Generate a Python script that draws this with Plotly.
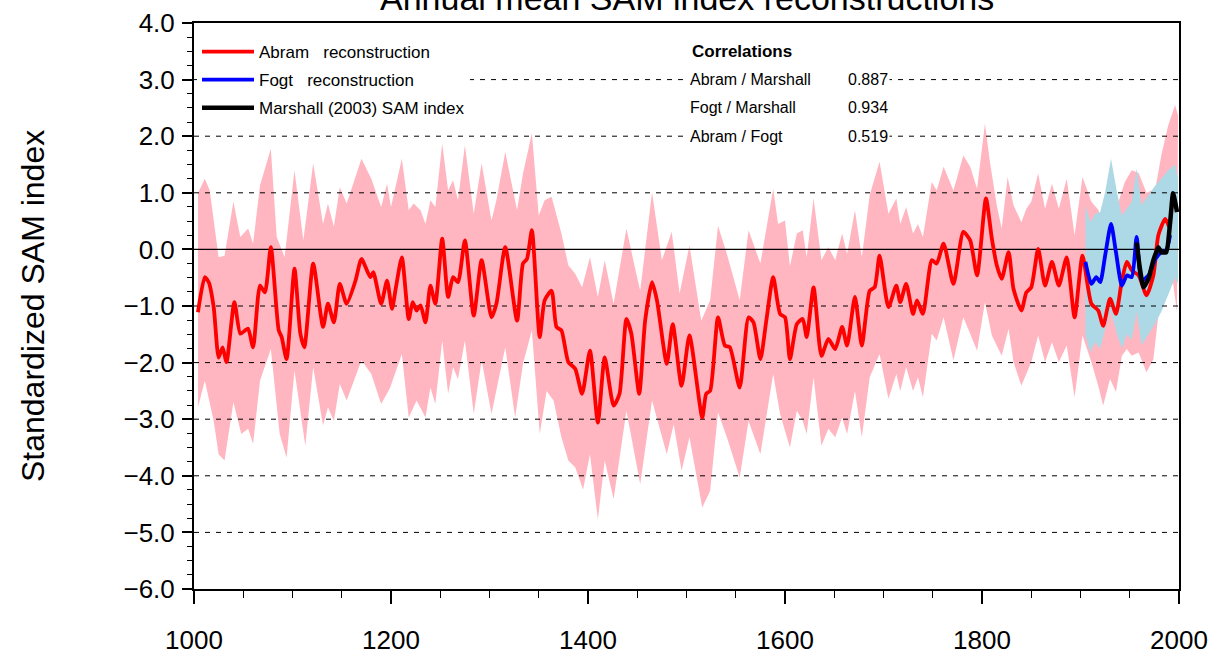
import plotly.graph_objects as go

FONT = "Liberation Sans, Arial, Helvetica, sans-serif"

# ---------------- data ----------------
abram_years = [1004, 1011, 1015, 1020, 1025, 1029, 1033, 1041, 1047, 1052, 1055, 1060, 1067, 1072, 1078,
               1086, 1089, 1094, 1102, 1108, 1112, 1121, 1131, 1136, 1142, 1148, 1155, 1164, 1170, 1179,
               1182, 1190, 1196, 1201, 1205, 1211, 1218, 1222, 1226, 1230, 1235, 1240, 1245, 1252, 1258,
               1263, 1268, 1275, 1284, 1292, 1302, 1307, 1316, 1328, 1334, 1338, 1343, 1351, 1356, 1363,
               1368, 1373, 1380, 1387, 1394, 1402, 1410, 1417, 1426, 1432, 1439, 1444, 1452, 1458, 1465,
               1470, 1480, 1486, 1495, 1503, 1516, 1520, 1524, 1532, 1539, 1544, 1554, 1563, 1568, 1575,
               1581, 1588, 1595, 1600, 1605, 1612, 1618, 1622, 1629, 1637, 1644, 1651, 1658, 1663, 1671,
               1678, 1686, 1691, 1696, 1705, 1713, 1717, 1723, 1730, 1734, 1740, 1749, 1754, 1761, 1771,
               1781, 1788, 1795, 1804, 1810, 1815, 1820, 1827, 1832, 1840, 1845, 1850, 1857, 1864, 1871,
               1878, 1886, 1894, 1902, 1911, 1918, 1923, 1930, 1936, 1942, 1947, 1952, 1959, 1967, 1974,
               1979, 1986, 1990]
abram_values = [-1.11, -0.49, -0.58, -1.02, -1.91, -1.73, -1.99, -0.93, -1.49, -1.43, -1.40, -1.73, -0.64, -0.76, 0.04,
                -1.43, -1.55, -1.94, -0.34, -1.49, -1.73, -0.25, -1.37, -0.96, -1.29, -0.61, -0.96, -0.55, -0.17, -0.49,
                -0.40, -0.96, -0.55, -1.05, -0.67, -0.14, -1.23, -0.93, -1.08, -0.99, -1.29, -0.64, -0.96, 0.19, -0.84,
                -0.49, -0.58, 0.16, -1.17, -0.19, -1.20, -0.96, 0.04, -1.26, -0.25, -0.17, 0.34, -1.55, -0.90, -0.73,
                -1.37, -1.43, -1.99, -2.11, -2.55, -1.79, -3.06, -1.91, -2.76, -2.55, -1.23, -1.49, -2.55, -1.26, -0.58,
                -0.90, -2.02, -1.32, -2.41, -1.52, -2.97, -2.55, -2.50, -1.20, -1.70, -1.73, -2.44, -1.20, -1.29, -1.94,
                -1.26, -0.49, -1.14, -1.20, -1.94, -1.32, -1.23, -1.55, -0.67, -1.88, -1.58, -1.76, -1.37, -1.70, -0.84,
                -1.70, -0.73, -0.67, -0.11, -1.02, -0.64, -0.93, -0.61, -1.14, -0.90, -1.14, -0.19, -0.25, 0.10, -0.61,
                0.31, 0.16, -0.46, 0.90, 0.19, -0.28, -0.52, -0.05, -0.70, -1.08, -0.76, -0.67, 0.01, -0.64, -0.22,
                -0.64, -0.14, -1.20, -0.11, -0.96, -1.08, -1.35, -0.87, -1.14, -0.55, -0.22, -0.37, -0.46, -0.81, -0.46,
                0.25, 0.54, 0.40]

abram_upper_years = [1004, 1011, 1016, 1025, 1031, 1040, 1047, 1055, 1060, 1067, 1078, 1084, 1092, 1102, 1111,
                     1121, 1131, 1136, 1142, 1148, 1155, 1170, 1180, 1190, 1196, 1200, 1211, 1218, 1223, 1230,
                     1235, 1240, 1245, 1252, 1258, 1263, 1268, 1275, 1284, 1292, 1302, 1307, 1316, 1328, 1334,
                     1343, 1350, 1356, 1363, 1373, 1380, 1387, 1394, 1402, 1410, 1417, 1426, 1439, 1446, 1453,
                     1465, 1475, 1485, 1493, 1503, 1515, 1524, 1532, 1541, 1554, 1563, 1575, 1588, 1593, 1600,
                     1605, 1612, 1618, 1622, 1629, 1637, 1644, 1651, 1658, 1663, 1671, 1678, 1686, 1696, 1705,
                     1713, 1717, 1723, 1730, 1735, 1740, 1749, 1754, 1761, 1771, 1781, 1788, 1795, 1803, 1808,
                     1815, 1820, 1826, 1832, 1840, 1845, 1850, 1857, 1864, 1871, 1878, 1886, 1894, 1902, 1911,
                     1918, 1923, 1930, 1936, 1945, 1952, 1959, 1967, 1976, 1982, 1989, 1996, 1999]
abram_upper = [0.99, 1.25, 1.04, -0.14, -0.11, 0.84, 0.22, 0.37, 0.10, 1.13, 1.78, 0.22, -0.14, 1.40, 0.16,
               1.52, 0.45, 0.81, 0.40, 1.10, 0.81, 1.60, 1.25, 0.75, 1.16, 0.75, 1.60, 0.69, 0.81, 0.69,
               0.45, 0.87, 0.75, 1.87, 1.04, 1.22, 0.87, 1.84, 0.63, 1.52, 0.51, 0.87, 1.72, 0.69, 1.34,
               2.05, 0.60, 0.87, 0.93, 0.28, -0.28, -0.43, -0.67, -0.14, -0.84, -0.19, -0.96, 0.37, -0.19, -0.73,
               1.01, -0.19, 0.31, -0.78, 0.07, -1.26, -0.90, 0.42, -0.08, -0.90, 0.34, -0.25, 1.07, 0.45, 0.51,
               -0.30, 0.28, 0.34, -0.14, 0.90, -0.19, 0.04, -0.19, 0.28, -0.08, 0.69, -0.14, 0.96, 1.55, 0.63,
               0.90, 0.45, 0.75, 0.28, 0.45, 0.22, 1.19, 1.04, 1.46, 1.04, 1.66, 1.46, 1.07, 2.22, 1.55,
               0.78, 0.37, 1.28, 0.78, 0.48, 0.72, 0.84, 1.34, 0.72, 1.16, 0.72, 1.25, 0.25, 1.28, 0.84,
               0.70, 0.45, 0.93, 0.70, 1.19, 1.40, 1.35, 1.00, 1.07, 1.66, 2.19, 2.55, 2.37]

abram_lower_years = [1004, 1011, 1020, 1025, 1031, 1040, 1048, 1055, 1060, 1067, 1078, 1087, 1094, 1102, 1113,
                     1121, 1131, 1136, 1142, 1148, 1155, 1170, 1180, 1190, 1199, 1211, 1218, 1226, 1235, 1240,
                     1245, 1252, 1258, 1263, 1268, 1275, 1284, 1292, 1302, 1316, 1326, 1334, 1343, 1351, 1358,
                     1365, 1373, 1380, 1387, 1395, 1402, 1410, 1417, 1426, 1439, 1453, 1465, 1480, 1487, 1495,
                     1503, 1516, 1524, 1532, 1541, 1554, 1563, 1575, 1588, 1595, 1605, 1612, 1618, 1622, 1629,
                     1637, 1644, 1651, 1658, 1663, 1671, 1678, 1686, 1696, 1705, 1713, 1717, 1723, 1730, 1735,
                     1740, 1749, 1754, 1761, 1771, 1781, 1788, 1795, 1803, 1810, 1820, 1827, 1832, 1840, 1850,
                     1857, 1864, 1871, 1878, 1886, 1894, 1902, 1911, 1918, 1923, 1930, 1936, 1942, 1947, 1952,
                     1959, 1967, 1974, 1979, 1986, 1993, 1998]
abram_lower = [-2.79, -2.32, -3.03, -3.62, -3.73, -2.70, -3.26, -3.17, -3.44, -2.32, -1.76, -3.26, -3.68, -2.14, -3.47,
               -2.08, -3.11, -2.79, -3.03, -2.38, -2.67, -1.96, -2.20, -2.73, -2.45, -1.85, -2.97, -2.67, -2.97, -2.44,
               -2.73, -1.61, -2.55, -2.08, -2.29, -1.61, -2.91, -1.96, -2.91, -1.73, -2.97, -2.02, -1.43, -3.26, -2.50,
               -2.67, -3.32, -3.73, -3.85, -4.24, -3.62, -4.77, -3.73, -4.41, -2.85, -4.15, -2.67, -3.62, -3.09, -3.91,
               -3.32, -4.56, -4.27, -2.88, -3.32, -4.03, -3.03, -3.62, -2.20, -2.91, -3.50, -2.85, -3.03, -3.26, -2.26,
               -3.47, -3.17, -3.32, -2.97, -3.26, -2.50, -3.32, -2.26, -1.85, -2.64, -2.20, -2.50, -2.08, -2.50, -2.26,
               -2.61, -1.49, -1.61, -1.20, -1.96, -1.20, -1.49, -1.79, -0.93, -1.52, -1.88, -1.40, -1.99, -2.41, -1.99,
               -1.52, -1.99, -1.64, -1.99, -1.70, -2.61, -1.52, -1.99, -2.41, -2.76, -2.29, -2.52, -1.88, -1.76, -1.88,
               -1.82, -2.17, -1.94, -1.17, -0.81, -0.46, -1.11]

fogt_years = [1905, 1911, 1916, 1920, 1925, 1931, 1936, 1942, 1947, 1952, 1957, 1962, 1969, 1976, 1982, 1987, 1991]
fogt_values = [-0.22, -0.61, -0.49, -0.58, -0.11, 0.45, -0.05, -0.64, -0.46, -0.49, 0.22, -0.55, -0.46, -0.17, -0.05, -0.02, 0.25]

fogt_band_years = [1905, 1910, 1915, 1920, 1925, 1931, 1937, 1942, 1947, 1952, 1957, 1962, 1969, 1976, 1982, 1989, 1996, 1999]
fogt_upper = [0.78, 0.48, 0.63, 0.66, 1.01, 1.60, 1.01, 0.60, 0.72, 0.84, 1.43, 0.78, 0.96, 1.13, 1.25, 1.40, 1.50, 1.25]
fogt_lower = [-1.52, -1.82, -1.64, -1.76, -1.40, -1.10, -1.50, -1.75, -1.50, -1.60, -1.10, -1.70, -1.50, -1.30, -1.10, -0.80, -0.50, -0.60]

marshall_years = [1957, 1960, 1964, 1969, 1974, 1979, 1982, 1987, 1991, 1994, 1998]
marshall_values = [0.12, -0.30, -0.67, -0.52, -0.19, 0.04, -0.05, -0.05, 0.48, 0.99, 0.66]

series_names = ["Abram\u00a0\u00a0 reconstruction", "Fogt\u00a0\u00a0 reconstruction", "Marshall (2003) SAM index"]
corr_labels = ["Abram / Marshall", "Fogt / Marshall", "Abram / Fogt"]
corr_values = ["0.887", "0.934", "0.519"]

grid_levels = [-5, -4, -3, -2, -1, 1, 2, 3]
x_range = [1000, 2000]
y_range = [-6, 4]
x_ticks = [1000, 1200, 1400, 1600, 1800, 2000]
y_ticks = [4, 3, 2, 1, 0, -1, -2, -3, -4, -5, -6]

# ---------------- figure ----------------
fig = go.Figure()

# uncertainty bands (closed polygons)
fig.add_trace(go.Scatter(
    x=abram_upper_years + abram_lower_years[::-1],
    y=abram_upper + abram_lower[::-1],
    fill="toself", fillcolor="rgb(255,182,193)", line=dict(width=0),
    mode="lines", showlegend=False, hoverinfo="skip"))
fig.add_trace(go.Scatter(
    x=fogt_band_years + fogt_band_years[::-1],
    y=fogt_upper + fogt_lower[::-1],
    fill="toself", fillcolor="rgb(173,216,230)", line=dict(width=0),
    mode="lines", showlegend=False, hoverinfo="skip"))

# dashed reference lines (drawn over the bands, below the series)
gx, gy = [], []
for lv in grid_levels:
    gx += [x_range[0], x_range[1], None]
    gy += [lv, lv, None]
fig.add_trace(go.Scatter(x=gx, y=gy, mode="lines",
                         line=dict(color="black", width=1, dash="5px,6px"),
                         showlegend=False, hoverinfo="skip"))
fig.add_trace(go.Scatter(x=x_range, y=[0, 0], mode="lines",
                         line=dict(color="black", width=1.3),
                         showlegend=False, hoverinfo="skip"))

# series
fig.add_trace(go.Scatter(x=abram_years, y=abram_values, mode="lines", name=series_names[0],
                         legendgroup="a", line=dict(color="red", width=3.8, shape="spline", smoothing=0.6)))
fig.add_trace(go.Scatter(x=fogt_years, y=fogt_values, mode="lines", name=series_names[1],
                         legendgroup="b", line=dict(color="blue", width=3.8, shape="spline", smoothing=0.6)))
fig.add_trace(go.Scatter(x=marshall_years, y=marshall_values, mode="lines", name=series_names[2],
                         legendgroup="c", line=dict(color="black", width=4.5, shape="spline", smoothing=0.5)))

PL, PR, PT, PB = 194, 42, 23, 75
PW, PH = 1221 - PL - PR, 664 - PT - PB


def px_x(px):
    return (px - PL) / PW


def px_y(py):
    return (PT + PH - py) / PH


annotations = []
# title (partly above the page, as in the reference)
annotations.append(dict(text="Annual mean SAM index reconstructions", xref="paper", yref="paper",
                        x=0.5, y=px_y(-2), xanchor="center", yanchor="middle", showarrow=False,
                        font=dict(family=FONT, size=34, color="black")))
# y-axis title
annotations.append(dict(text="Standardized SAM index", xref="paper", yref="paper",
                        x=px_x(33), y=0.5, xanchor="center", yanchor="middle", textangle=-90,
                        showarrow=False, font=dict(family=FONT, size=32, color="black")))
# correlations block
annotations.append(dict(text="<b>Correlations</b>", xref="paper", yref="paper",
                        x=px_x(690), y=px_y(51), xanchor="left", yanchor="middle", showarrow=False,
                        font=dict(family=FONT, size=17, color="black")))
row_y = [79, 107, 136]
for lab, val, ry in zip(corr_labels, corr_values, row_y):
    annotations.append(dict(text=lab, xref="paper", yref="paper", x=px_x(688), y=px_y(ry),
                            xanchor="left", yanchor="middle", showarrow=False, align="left",
                            width=158, bgcolor="white", borderpad=1,
                            font=dict(family=FONT, size=16, color="black")))
    annotations.append(dict(text=val, xref="paper", yref="paper", x=px_x(846), y=px_y(ry),
                            xanchor="left", yanchor="middle", showarrow=False, bgcolor="white",
                            borderpad=1, font=dict(family=FONT, size=16, color="black")))

fig.update_layout(
    width=1221, height=664,
    margin=dict(l=PL, r=PR, t=PT, b=PB, pad=0),
    paper_bgcolor="white", plot_bgcolor="white",
    font=dict(family=FONT, color="black"),
    showlegend=True,
    legend=dict(x=px_x(197), y=px_y(34), xanchor="left", yanchor="top",
                bgcolor="white", borderwidth=0, tracegroupgap=3, itemwidth=52,
                font=dict(family=FONT, size=17, color="black")),
    annotations=annotations,
    xaxis=dict(range=x_range, tickmode="array", tickvals=x_ticks, automargin=False,
               ticks="outside", ticklen=13, tickwidth=1.5, tickcolor="black",
               showline=True, linecolor="black", linewidth=2, mirror=True,
               showgrid=False, zeroline=False, ticklabelstandoff=14,
               tickfont=dict(family=FONT, size=26, color="black"),
               minor=dict(dtick=50, ticks="outside", ticklen=7, tickwidth=1, tickcolor="black", showgrid=False)),
    yaxis=dict(range=y_range, tickmode="array", tickvals=y_ticks, tickformat=".1f", automargin=False,
               ticks="outside", ticklen=10, tickwidth=1.5, tickcolor="black",
               showline=True, linecolor="black", linewidth=2, mirror=True,
               showgrid=False, zeroline=False, ticklabelstandoff=2,
               tickfont=dict(family=FONT, size=26, color="black"),
               minor=dict(dtick=0.25, ticks="outside", ticklen=5, tickwidth=1, tickcolor="black", showgrid=False)),
)

fig.write_html("out.html", config={"displayModeBar": False},
               post_script="document.body.style.margin='0';document.body.style.overflow='hidden';")
